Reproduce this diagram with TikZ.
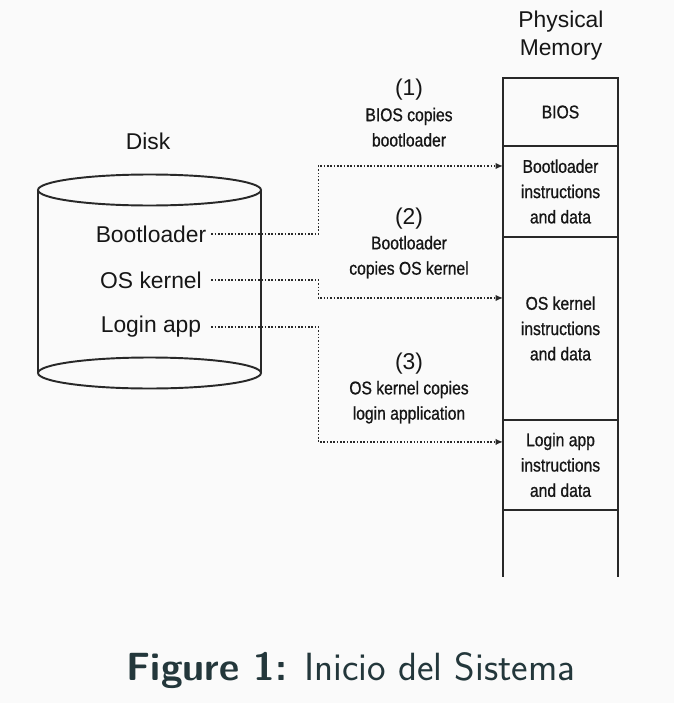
\documentclass[tikz,border=0pt]{standalone}
\usepackage{fontspec}
\setmainfont{Liberation Sans}
\newfontfamily\narrowsf[FakeStretch=0.85, FakeBold=0.8]{Liberation Sans}
\usepackage{tikz}
\usetikzlibrary{arrows.meta, positioning, calc}
\definecolor{bgGray}{RGB}{250,250,250}
\definecolor{lineGray}{RGB}{40,40,40}
\definecolor{inkBlack}{RGB}{22,22,22}
\definecolor{capTeal}{RGB}{35,55,59}

\begin{document}
\begin{tikzpicture}[
    x=0.02cm, y=-0.02cm, >=Latex,
    font=\fontsize{13}{15}\selectfont, text=inkBlack,
    memcell/.style={draw=lineGray, line width=1pt, minimum width=2.3cm,
                  inner sep=0pt, outer sep=0pt, align=center,
                  font=\narrowsf\fontsize{10.5}{14.4}\selectfont},
    disklbl/.style={minimum width=2.4cm, inner sep=0pt},
    steplbl/.style={align=center, font=\narrowsf\fontsize{10.5}{14.4}\selectfont},
    copyarr/.style={-{Latex[length=1.5mm, width=1.3mm]}, densely dotted,
                  line width=0.9pt, draw=lineGray}
]
% --- Background, fixes the page size.
\fill[bgGray] (0,0) rectangle (674,703);

% --- Disk (left): title, cylinder and the three stored items.
\node (disktitle) at (148,141) {Disk};
\draw[line width=1.1pt, draw=lineGray] (149.5,190) ellipse [x radius=2.23cm, y radius=0.31cm];
\draw[line width=1.1pt, draw=lineGray] (149.5,373) ellipse [x radius=2.23cm, y radius=0.31cm];
\draw[line width=1.1pt, draw=lineGray] (38,190) -- (38,373);
\draw[line width=1.1pt, draw=lineGray] (261,190) -- (261,373);

\node[disklbl] (bootdisk)  at (151,234) {Bootloader};
\node[disklbl] (osdisk)    at (151,280) {OS kernel};
\node[disklbl] (logindisk) at (151,327) {Login app};

% --- Physical memory (right): stacked cells, open at the bottom.
\node[align=center, font=\fontsize{13}{16}\selectfont] (memtitle) at (561,36) {Physical\\Memory};

\node[memcell, minimum height=1.36cm] (biosmem) at (560.5,112) {BIOS};
\node[memcell, minimum height=1.82cm, below=0pt of biosmem] (bootmem)
    {Bootloader\\instructions\\and data};
\node[memcell, minimum height=3.66cm, below=0pt of bootmem] (osmem)
    {OS kernel\\instructions\\and data};
\node[memcell, minimum height=1.8cm, below=0pt of osmem] (loginmem)
    {Login app\\instructions\\and data};
\draw[line width=1pt, draw=lineGray] (loginmem.south west) -- ++(0,67);
\draw[line width=1pt, draw=lineGray] (loginmem.south east) -- ++(0,67);

% --- Step labels between disk and memory.
\node[steplbl] (step1) at (409,113)
    {{\normalfont\fontsize{13}{14.4}\selectfont (1)}\\BIOS copies\\bootloader};
\node[steplbl] (step2) at (409,243)
    {{\normalfont\fontsize{13}{14.4}\selectfont (2)}\\Bootloader\\copies OS kernel};
\node[steplbl] (step3) at (409,388)
    {{\normalfont\fontsize{13}{14.4}\selectfont (3)}\\OS kernel copies\\login application};

% --- Copy arrows, each ends at the first text line of its cell.
\coordinate (bootin)  at ($(bootmem.west)+(0,-25.5)$);
\coordinate (osin)    at ($(osmem.west)+(0,-30.5)$);
\coordinate (loginin) at ($(loginmem.west)+(0,-23)$);

\draw[copyarr] (bootdisk.east)  -- ++(107,0) |- (bootin);
\draw[copyarr] (osdisk.east)    -- ++(107,0) |- (osin);
\draw[copyarr] (logindisk.east) -- ++(107,0) |- (loginin);

% --- Caption.
\node[font=\sffamily\fontsize{22.4}{26}\selectfont, text=capTeal] (caption) at (351,670)
    {\textbf{Figure 1:} Inicio del Sistema};
\end{tikzpicture}
\end{document}
